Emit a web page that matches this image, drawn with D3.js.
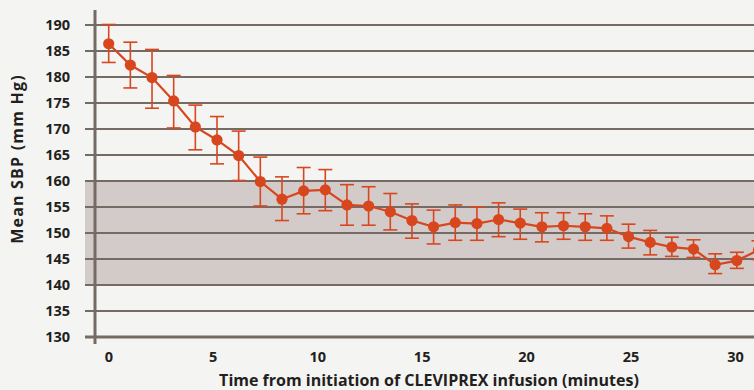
<!DOCTYPE html>
<html>
<head>
<meta charset="utf-8">
<script src="https://cdn.jsdelivr.net/npm/d3@7"></script>
<style>
  body { margin: 0; background: #f4f4f2; }
  svg { display: block; background: #f4f4f2; }
  text { font-family: "Open Sans", "Lato", sans-serif; font-weight: 700; fill: #231f20; }
</style>
</head>
<body>
<div id="chart"></div>
<script>
// Chart data
var minutes = [0, 1, 2, 3, 4, 5, 6, 7, 8, 9, 10, 11, 12, 13, 14, 15, 16, 17, 18, 19, 20,
               21, 22, 23, 24, 25, 26, 27, 28, 29, 30];
var meanSBP = [186.3, 182.2, 179.8, 175.3, 170.3, 167.8, 164.8, 159.8, 156.4, 158.0, 158.2,
               155.3, 155.1, 154.0, 152.3, 151.1, 151.9, 151.7, 152.5, 151.8, 151.1,
               151.3, 151.1, 150.8, 149.2, 148.1, 147.2, 146.8, 143.8, 144.6, 146.6];
var errUpper = [190.0, 186.6, 185.2, 180.2, 174.5, 172.3, 169.5, 164.5, 160.7, 162.5, 162.1,
                159.2, 158.8, 157.5, 155.5, 154.3, 155.3, 154.9, 155.7, 154.5, 153.8,
                153.8, 153.6, 153.2, 151.6, 150.4, 149.1, 148.6, 145.9, 146.2, 148.4];
var errLower = [182.7, 177.8, 173.9, 170.1, 165.9, 163.2, 160.0, 155.1, 152.3, 153.6, 154.2,
                151.4, 151.4, 150.5, 148.9, 147.8, 148.5, 148.5, 149.2, 148.7, 148.2,
                148.7, 148.5, 148.5, 147.0, 145.7, 145.4, 145.2, 142.1, 143.1, 144.8];
var yTicks = [130, 135, 140, 145, 150, 155, 160, 165, 170, 175, 180, 185, 190];
var xTicks = [0, 5, 10, 15, 20, 25, 30];
var targetBand = [140, 160];

var svgWidth = 754;
var svgHeight = 390;

var orange = "#d8461e";
var gridColor = "#756a64";

var svg = d3.select("#chart")
    .append("svg")
    .attr("width", svgWidth)
    .attr("height", svgHeight);

// scales
var y = d3.scaleLinear().domain([130, 190]).range([336.5, 24.5]);
var x = d3.scaleLinear().domain([0, 30]).range([108.7, 758.5]);
// tick labels sit on a slightly tighter spacing than the points in the original
var xLabelScale = d3.scaleLinear().domain([0, 30]).range([108.3, 735]);

var data = minutes.map(function(m, i) {
    return { t: m, v: meanSBP[i], hi: errUpper[i], lo: errLower[i] };
});

// shaded target range
svg.append("rect")
    .attr("x", 85)
    .attr("y", y(targetBand[1]))
    .attr("width", svgWidth - 85)
    .attr("height", y(targetBand[0]) - y(targetBand[1]))
    .attr("fill", "#d3cbc9");

// y axis with gridlines
var yAxis = svg.append("g")
    .attr("transform", "translate(85,0)")
    .call(d3.axisLeft(y).tickValues(yTicks).tickSize(-(svgWidth - 85)).tickPadding(15));
yAxis.select(".domain").remove();
yAxis.selectAll(".tick line")
    .attr("stroke", gridColor)
    .attr("stroke-width", d => d === 130 ? 3 : 2);
yAxis.selectAll(".tick text")
    .attr("font-size", 14.5)
    .attr("font-family", null)
    .attr("fill", "#231f20");

// vertical axis line
svg.append("line")
    .attr("x1", 95).attr("x2", 95)
    .attr("y1", 10).attr("y2", 344)
    .attr("stroke", gridColor)
    .attr("stroke-width", 3);

// x axis labels
var xAxis = svg.append("g")
    .attr("transform", "translate(0,347)")
    .call(d3.axisBottom(xLabelScale).tickValues(xTicks).tickSize(0).tickPadding(0));
xAxis.select(".domain").remove();
xAxis.selectAll(".tick text")
    .attr("font-size", 14.5)
    .attr("font-family", null)
    .attr("dy", "1em")
    .attr("fill", "#231f20");

// error bars
var errGroup = svg.append("g")
    .attr("stroke", orange)
    .attr("stroke-width", 1.6);
errGroup.selectAll(".stem")
    .data(data).enter().append("line")
    .attr("x1", d => x(d.t)).attr("x2", d => x(d.t))
    .attr("y1", d => y(d.hi)).attr("y2", d => y(d.lo));
errGroup.selectAll(".capHi")
    .data(data).enter().append("line")
    .attr("x1", d => x(d.t) - 7).attr("x2", d => x(d.t) + 7)
    .attr("y1", d => y(d.hi)).attr("y2", d => y(d.hi));
errGroup.selectAll(".capLo")
    .data(data).enter().append("line")
    .attr("x1", d => x(d.t) - 7).attr("x2", d => x(d.t) + 7)
    .attr("y1", d => y(d.lo)).attr("y2", d => y(d.lo));

// line
svg.append("path")
    .datum(data)
    .attr("fill", "none")
    .attr("stroke", orange)
    .attr("stroke-width", 2.2)
    .attr("d", d3.line().x(d => x(d.t)).y(d => y(d.v)));

// dots
svg.selectAll(".dot")
    .data(data).enter().append("circle")
    .attr("cx", d => x(d.t))
    .attr("cy", d => y(d.v))
    .attr("r", 5.6)
    .attr("fill", orange);

// axis titles
svg.append("text")
    .attr("x", 429)
    .attr("y", 386)
    .attr("text-anchor", "middle")
    .attr("font-size", 16)
    .text("Time from initiation of CLEVIPREX infusion (minutes)");

svg.append("text")
    .attr("transform", "translate(23,159) rotate(-90)")
    .attr("text-anchor", "middle")
    .attr("font-size", 16)
    .attr("letter-spacing", 1.2)
    .text("Mean SBP (mm Hg)");
</script>
</body>
</html>
